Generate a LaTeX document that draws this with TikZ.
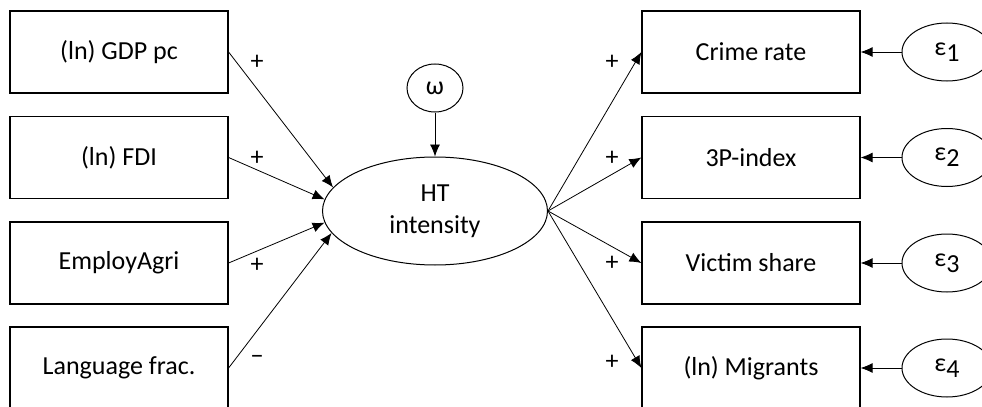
\documentclass[tikz,border=0pt]{standalone}
\usepackage{fontspec}
\setmainfont{Carlito}
\usetikzlibrary{arrows.meta, shapes.geometric, positioning}

\tikzset{
  obsbox/.style={draw, rectangle, line width=0.6pt, minimum width=109pt, minimum height=41pt, inner sep=0pt},
  latent/.style={draw, ellipse, line width=0.5pt, inner sep=0pt},
  sign/.style={inner sep=0pt},
}

\begin{document}
\begin{tikzpicture}[x=0.5pt, y=-0.5pt, >={Latex[length=6pt, width=5pt]}, font=\fontsize{13}{16}\selectfont]
\useasboundingbox (0,0) rectangle (982,407);

% causes
\node[obsbox] (gdp) at (119, 52) {(ln) GDP pc};
\node[obsbox] (fdi) at (119, 157.5) {(ln) FDI};
\node[obsbox] (agri) at (119, 263) {EmployAgri};
\node[obsbox] (lang) at (119, 368) {Language frac.};

% latent
\node[latent, minimum width=112.5pt, minimum height=54pt, align=center] (ht) at (435, 211) {HT\\intensity};
\node[latent, minimum width=28pt, minimum height=24pt] (om) at (435, 88) {ω};

% indicators
\node[obsbox] (crime) at (751, 52) {Crime rate};
\node[obsbox] (ppp) at (751, 157.5) {3P-index};
\node[obsbox] (victim) at (751, 263) {Victim share};
\node[obsbox] (migr) at (751, 368) {(ln) Migrants};

% errors
\node[latent, minimum width=45pt, minimum height=29pt] (e1) at (947, 52) {ε\raisebox{-0.5ex}{1}};
\node[latent, minimum width=45pt, minimum height=29pt] (e2) at (947, 157.5) {ε\raisebox{-0.5ex}{2}};
\node[latent, minimum width=45pt, minimum height=29pt] (e3) at (947, 263) {ε\raisebox{-0.5ex}{3}};
\node[latent, minimum width=45pt, minimum height=29pt] (e4) at (947, 368) {ε\raisebox{-0.5ex}{4}};

% signs
\node[sign] (s1) at (257, 62) {+};
\node[sign] (s2) at (257, 158) {+};
\node[sign] (s3) at (257, 265) {+};
\node[sign] (s4) at (257, 360) {−};
\node[sign] (s5) at (612, 62) {+};
\node[sign] (s6) at (612, 158) {+};
\node[sign] (s7) at (612, 263) {+};
\node[sign] (s8) at (612, 362) {+};

\draw
(gdp.east) edge[->] (ht.167)
(fdi.east) edge[->] (ht.174)
(agri.east) edge[->] (ht.186)
(lang.east) edge[->] (ht.192)
(om) edge[->] (ht)
(ht.east) edge[->] (crime.west)
(ht.east) edge[->] (ppp.west)
(ht.east) edge[->] (victim.west)
(ht.east) edge[->] (migr.west)
(e1) edge[->] (crime)
(e2) edge[->] (ppp)
(e3) edge[->] (victim)
(e4) edge[->] (migr);
\end{tikzpicture}
\end{document}
